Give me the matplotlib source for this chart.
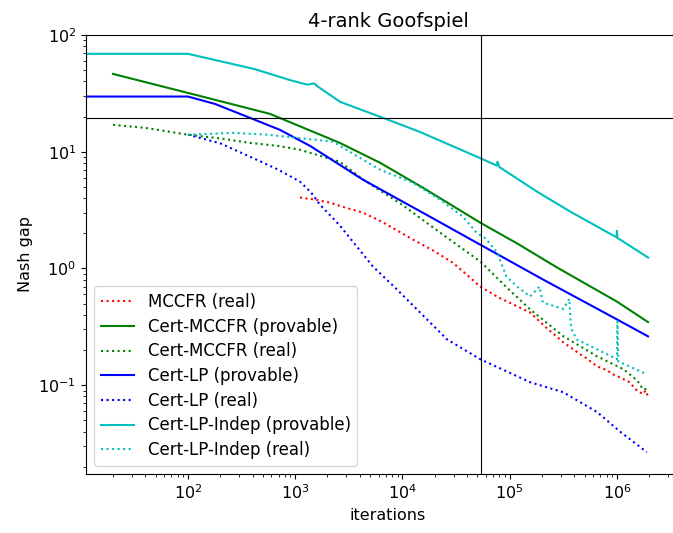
import matplotlib
matplotlib.use("Agg")
import matplotlib.pyplot as plt

# ---- data ----
mccfr_real_x = [1107, 1500, 2110, 3000, 4270, 6500, 12500, 20000, 29500, 40000, 53000, 80000,
                155000, 220000, 316000, 400000, 450000, 520000, 650000, 800000, 900000,
                1100000, 1310000, 1500000, 1600000, 1750000, 1850000, 1950000]
mccfr_real_y = [4.05, 3.9, 3.66, 3.3, 3.01, 2.5, 1.77, 1.4, 1.12, 0.88, 0.70, 0.56,
                0.42, 0.31, 0.233, 0.20, 0.185, 0.17, 0.145, 0.135, 0.125,
                0.115, 0.106, 0.092, 0.088, 0.084, 0.09, 0.080]

cmccfr_prov_x = [20, 100, 582, 2610, 6170, 15500, 53000, 117000, 276000, 1000000, 1950000]
cmccfr_prov_y = [46.4, 31.9, 21.1, 11.9, 8.05, 4.92, 2.47, 1.64, 1.02, 0.52, 0.347]

cmccfr_real_x = [20, 40, 100, 200, 379, 700, 1107, 2610, 4270, 10000, 22400, 53000, 100000,
                 155000, 316000, 650000, 1150000, 1450000, 1600000, 1750000, 1950000]
cmccfr_real_y = [17.0, 16.0, 14.0, 13.0, 11.9, 11.2, 10.4, 8.2, 5.8, 3.5, 2.03, 1.15, 0.65,
                 0.446, 0.263, 0.177, 0.137, 0.115, 0.105, 0.092, 0.093]

certlp_prov_x = [10, 100, 178, 379, 720, 1380, 4270, 18000, 53000, 204000, 1000000, 1950000]
certlp_prov_y = [29.7, 29.7, 25.7, 19.5, 15.4, 11.2, 5.77, 2.78, 1.60, 0.805, 0.366, 0.262]

certlp_real_x = [100, 200, 379, 700, 1107, 1400, 1700, 2610, 5300, 8900, 18000, 26000, 53000,
                 155000, 316000, 650000, 1070000, 1900000]
certlp_real_y = [14.0, 11.8, 9.06, 7.0, 5.54, 4.5, 3.52, 2.33, 1.04, 0.66, 0.346, 0.247, 0.167,
                 0.106, 0.087, 0.059, 0.040, 0.0267]

indep_prov_x = [10, 100, 420, 900, 1300, 1500, 1600, 2630, 6600, 14500, 49500, 76000, 77000,
                80000, 180000, 360000, 990000, 1000000, 1010000, 1950000]
indep_prov_y = [69, 69, 51, 41, 37.5, 38.5, 36.5, 26.7, 19.5, 14.8, 9.06, 7.6, 8.2,
                7.4, 4.55, 3.10, 1.85, 2.1, 1.83, 1.24]

indep_real_x = [100, 263, 546, 2250, 4270, 6170, 12500, 22400, 36600, 49000, 60000, 76000,
                81000, 93000, 117000, 155000, 190000, 200000, 204000, 316000, 360000, 370000,
                380000, 420000, 650000, 1000000, 1010000, 1030000, 1900000]
indep_real_y = [14.0, 14.5, 14.0, 12.2, 8.55, 7.02, 5.43, 3.89, 2.78, 2.03, 1.8, 1.37,
                1.19, 0.855, 0.70, 0.575, 0.70, 0.55, 0.51, 0.45, 0.55, 0.34,
                0.30, 0.247, 0.203, 0.167, 0.352, 0.16, 0.124]

cross_x = 5.4e4
cross_y = 19.3

# ---- figure ----
fig = plt.figure(figsize=(6.73, 5.33), dpi=100)
ax = fig.add_axes([86 / 673, 59 / 533, 604 / 673, 439 / 533])

lw = 1.5
ax.plot(mccfr_real_x, mccfr_real_y, color="r", ls=":", lw=lw, label="MCCFR (real)")
ax.plot(cmccfr_prov_x, cmccfr_prov_y, color="g", ls="-", lw=lw, label="Cert-MCCFR (provable)")
ax.plot(cmccfr_real_x, cmccfr_real_y, color="g", ls=":", lw=lw, label="Cert-MCCFR (real)")
ax.plot(certlp_prov_x, certlp_prov_y, color="b", ls="-", lw=lw, label="Cert-LP (provable)")
ax.plot(certlp_real_x, certlp_real_y, color="b", ls=":", lw=lw, label="Cert-LP (real)")
ax.plot(indep_prov_x, indep_prov_y, color="c", ls="-", lw=lw, label="Cert-LP-Indep (provable)")
ax.plot(indep_real_x, indep_real_y, color="c", ls=":", lw=lw, label="Cert-LP-Indep (real)")

ax.axvline(cross_x, color="black", lw=0.8)
ax.axhline(cross_y, color="black", lw=0.8)

ax.set_xscale("log")
ax.set_yscale("log")
ax.set_xlim(11.2, 4.8e6)
ax.set_ylim(0.01734, 100)

ax.set_title("4-rank Goofspiel", fontsize=14)
ax.set_xlabel("iterations", fontsize=11.5)
ax.set_ylabel("Nash gap", fontsize=11.5)
ax.tick_params(labelsize=11.5)
ax.legend(loc="lower left", fontsize=12, labelspacing=0.4)

fig.savefig("out.png", dpi=100)
